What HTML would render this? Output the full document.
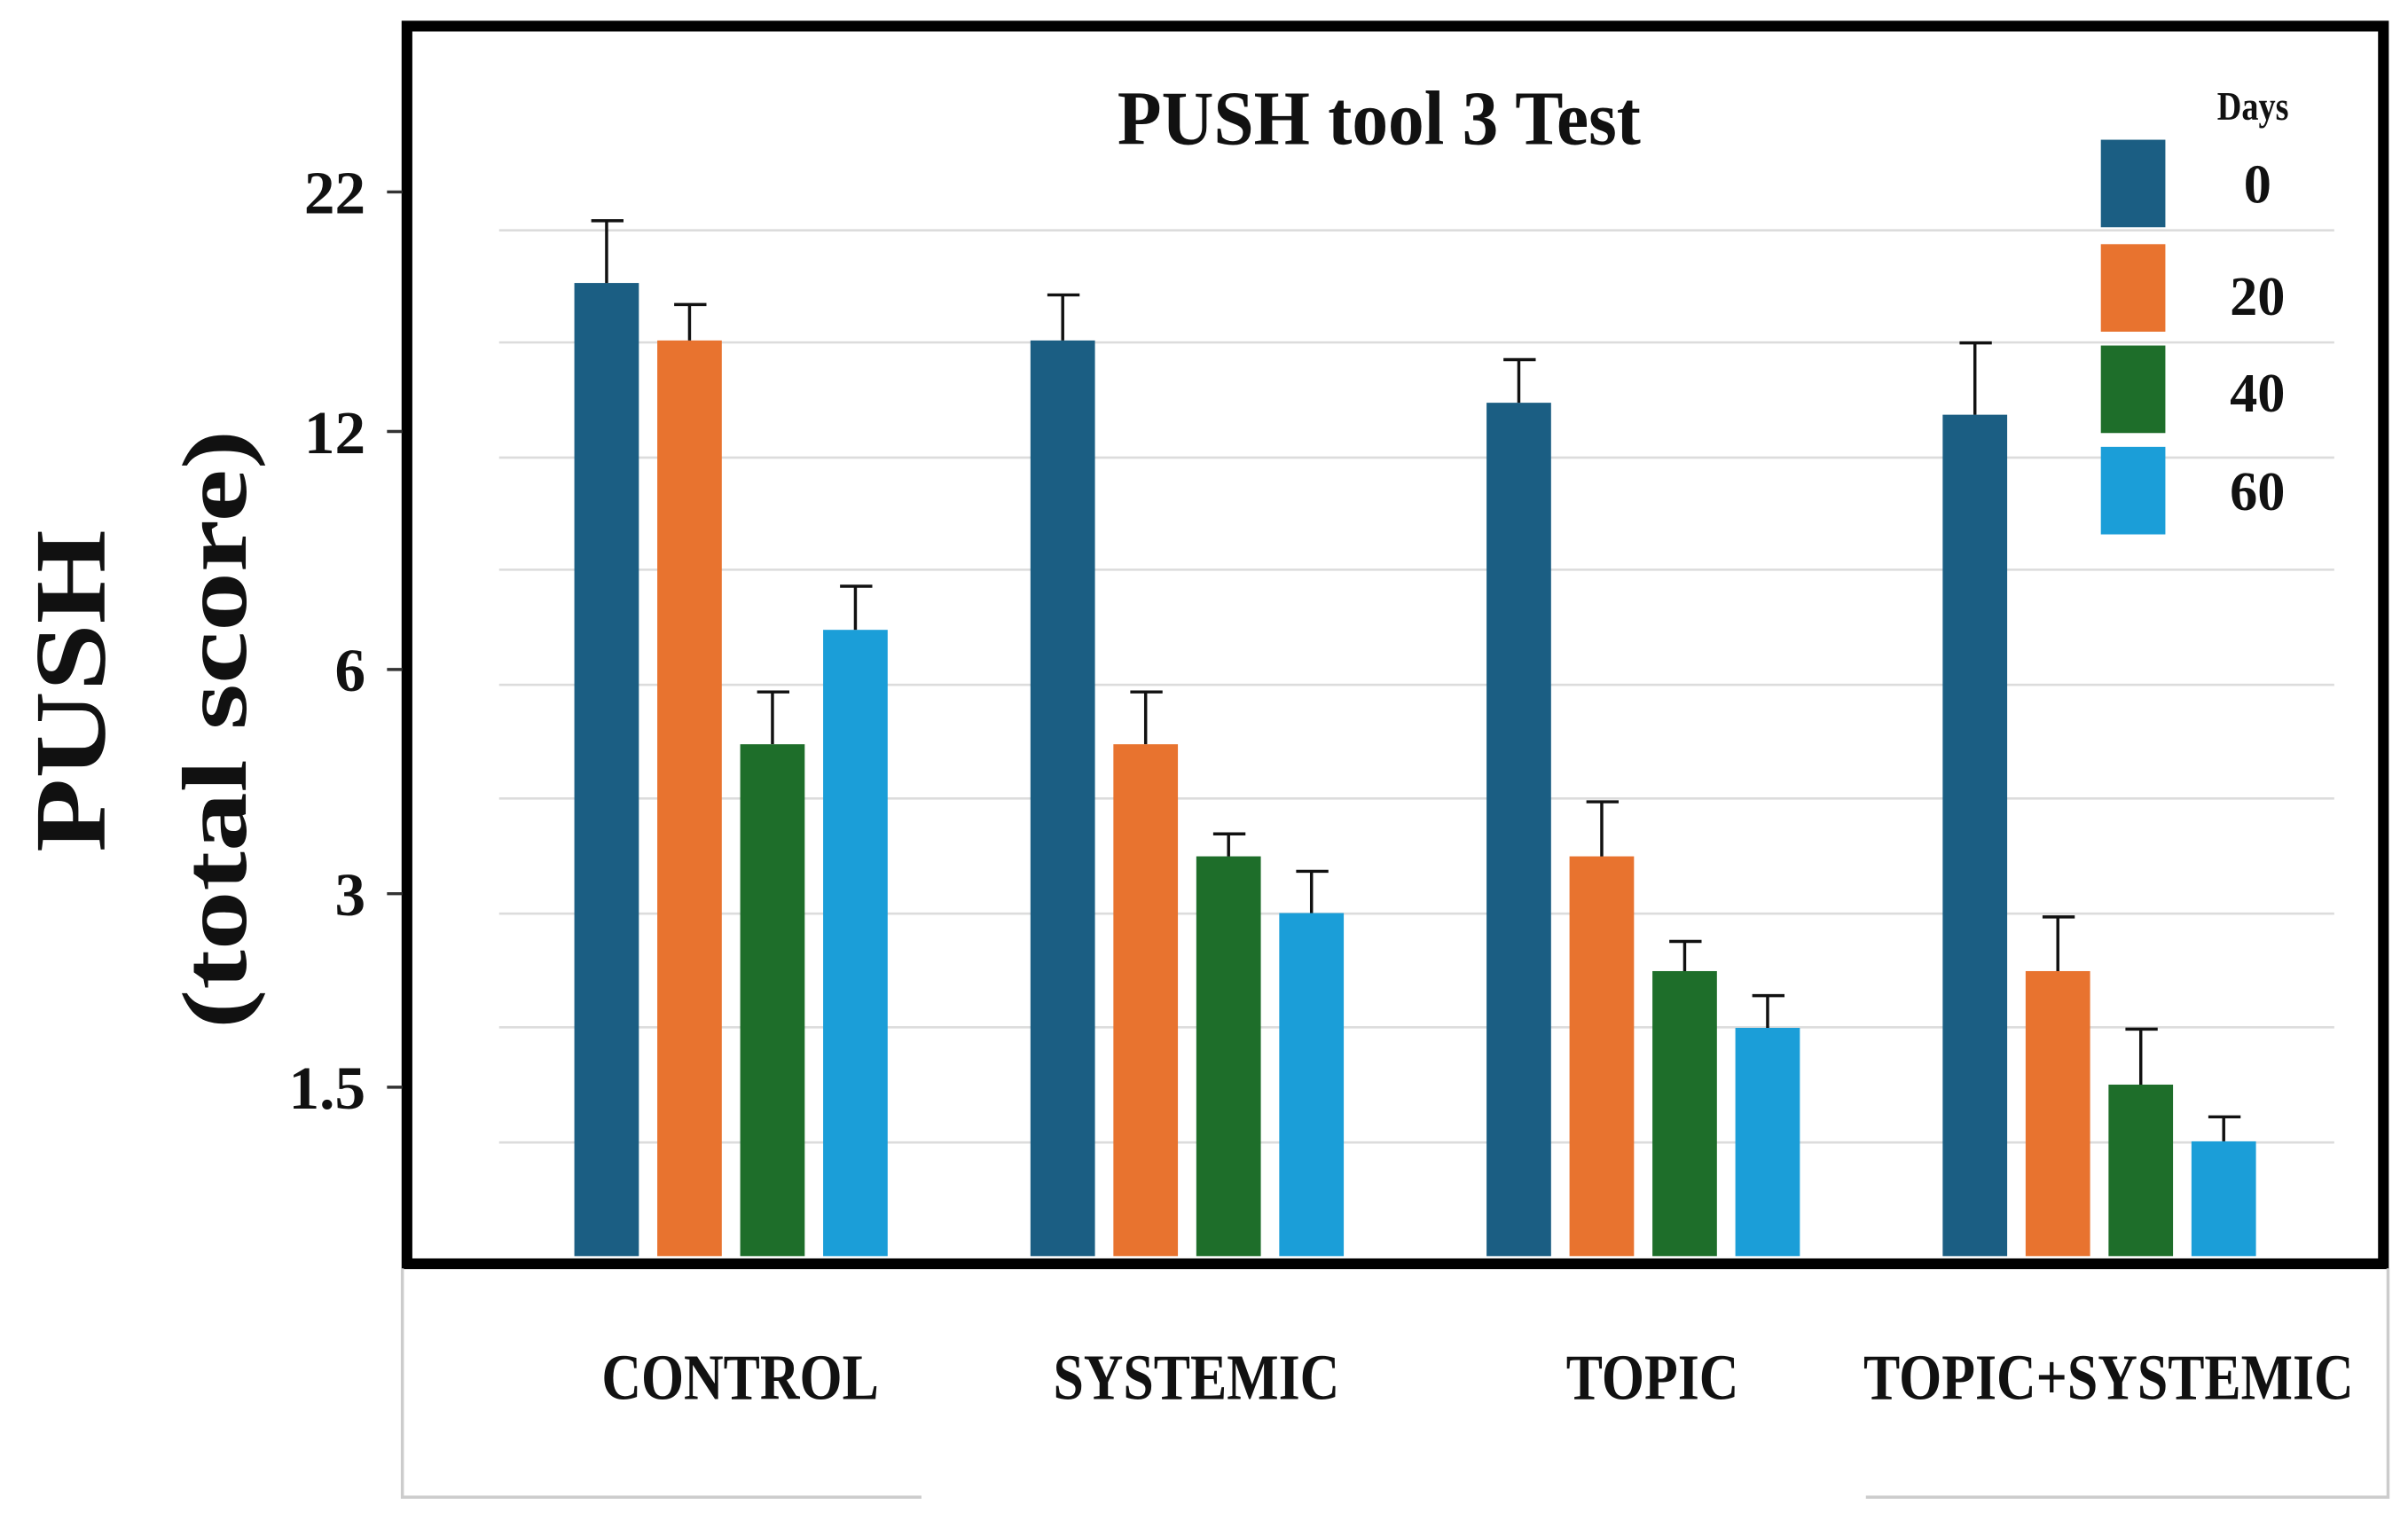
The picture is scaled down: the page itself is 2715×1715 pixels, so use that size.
<!DOCTYPE html>
<html><head><meta charset="utf-8"><style>
html,body{margin:0;padding:0;background:#fff;}
svg{display:block;}
text{font-family:"Liberation Serif",serif;font-weight:bold;fill:#111;}
</style></head><body>
<svg id="chart" width="2715" height="1715" viewBox="0 0 1568 990.5" preserveAspectRatio="none" xmlns="http://www.w3.org/2000/svg">
<g id="grid"></g>
<g id="bars"></g>
<rect x="265" y="17" width="1287" height="806" fill="none" stroke="#000" stroke-width="7"/>
<path d="M262 826 V975 H600 M1215 975 H1555 V826" fill="none" stroke="#ccc" stroke-width="2"/>
<g id="yaxis"></g>
<g id="xaxis"></g>
<text x="898" y="94" font-size="50" text-anchor="middle" transform="translate(898 0) scale(0.94 1) translate(-898 0)">PUSH tool 3 Test</text>
<g>
<text transform="translate(68 450) rotate(-90)" x="0" y="0" font-size="66" text-anchor="middle" textLength="210" lengthAdjust="spacingAndGlyphs">PUSH</text>
<text transform="translate(160 475) rotate(-90)" x="0" y="0" font-size="60" text-anchor="middle" textLength="390" lengthAdjust="spacingAndGlyphs">(total score)</text>
</g>
<g id="legend">
<text x="1467" y="78" font-size="26" text-anchor="middle" transform="translate(1467 0) scale(0.85 1) translate(-1467 0)">Days</text>
</g>
</svg>
<script>
const categories=["CONTROL","SYSTEMIC","TOPIC","TOPIC+SYSTEMIC"];
const seriesNames=["0","20","40","60"];
const colors=["#1b5e83","#e8732f","#1e6e2a","#1b9ed8"];
const values0=[18.2,15.8,13.2,12.7];
const values20=[15.8,5.0,3.5,2.4];
const values40=[5.0,3.5,2.4,1.52];
const values60=[7.0,2.85,1.96,1.08];
const err0=[20.8,17.7,15.0,15.7];
const err20=[17.3,5.7,4.23,2.82];
const err40=[5.7,3.8,2.63,1.95];
const err60=[8.1,3.3,2.21,1.27];
const yTicks=[1.5,3,6,12,22];
const yTickLabels=["1.5","3","6","12","22"];
const gridYs=[150,223,298,371,446,520,595,669,744];

const knotV=[0.19,1.5,3,6,12,22], knotP=[818,708,582,436,281,125];
function y(v){
  for(let i=0;i<knotV.length-1;i++){
    if(v<=knotV[i+1]||i===knotV.length-2){
      const t=(v-knotV[i])/(knotV[i+1]-knotV[i]);
      return knotP[i]+t*(knotP[i+1]-knotP[i]);
    }
  }
}
function x(ci,si){return 374+ci*297+si*54;}
const NS="http://www.w3.org/2000/svg";
function mk(tag,attrs,parent){const e=document.createElementNS(NS,tag);for(const k in attrs)e.setAttribute(k,attrs[k]);parent.appendChild(e);return e;}
const grid=document.getElementById('grid');
gridYs.forEach(gy=>{
  const l=mk('line',{x1:325,x2:1520,y1:gy,y2:gy,stroke:"#dcdcdc","stroke-width":1.5},grid);
  
  
});
const vals=[values0,values20,values40,values60], errs=[err0,err20,err40,err60];
const bars=document.getElementById('bars');
categories.forEach((c,ci)=>{
  vals.forEach((arr,si)=>{
    const bx=x(ci,si), top=y(arr[ci]), base=y(0.19);
    const r=mk('rect',{x:bx,y:top,width:42,height:base-top,fill:colors[si]},bars);
    
    
    const ey=y(errs[si][ci]), cx=bx+21;
    const e=mk('path',{d:`M${cx} ${top} V${ey} M${cx-10} ${ey} H${cx+11}`,stroke:"#111","stroke-width":2,fill:"none"},bars);
    
    
  });
});
const ya=document.getElementById('yaxis');
yTicks.forEach((v,i)=>{
  const ty=y(v);
  const t=mk('line',{x1:252,x2:262,y1:ty,y2:ty,stroke:"#333","stroke-width":2},ya);
  
  
  const lb=mk('text',{x:238,y:ty+14,"font-size":40,"text-anchor":"end"},ya);
  lb.textContent=yTickLabels[i];
  
  
});
const xa=document.getElementById('xaxis');
categories.forEach((c,ci)=>{
  const cx=x(ci,0)+(x(ci,3)+42-x(ci,0))/2+6;
  const t=mk('text',{x:cx,y:911,"font-size":42,"text-anchor":"middle",transform:`translate(${cx} 0) scale(0.85 1) translate(${-cx} 0)`},xa);
  t.textContent=c;
  
  
});
const lg=document.getElementById('legend');
const swY=[91,159,225,291], lbY=[132,205,268,332];
seriesNames.forEach((s,i)=>{
  const r=mk('rect',{x:1368,y:swY[i],width:42,height:57,fill:colors[i]},lg);
  
  
  const t=mk('text',{x:1470,y:lbY[i],"font-size":36,"text-anchor":"middle"},lg);
  t.textContent=s;
  
  
});
</script>
</body></html>
